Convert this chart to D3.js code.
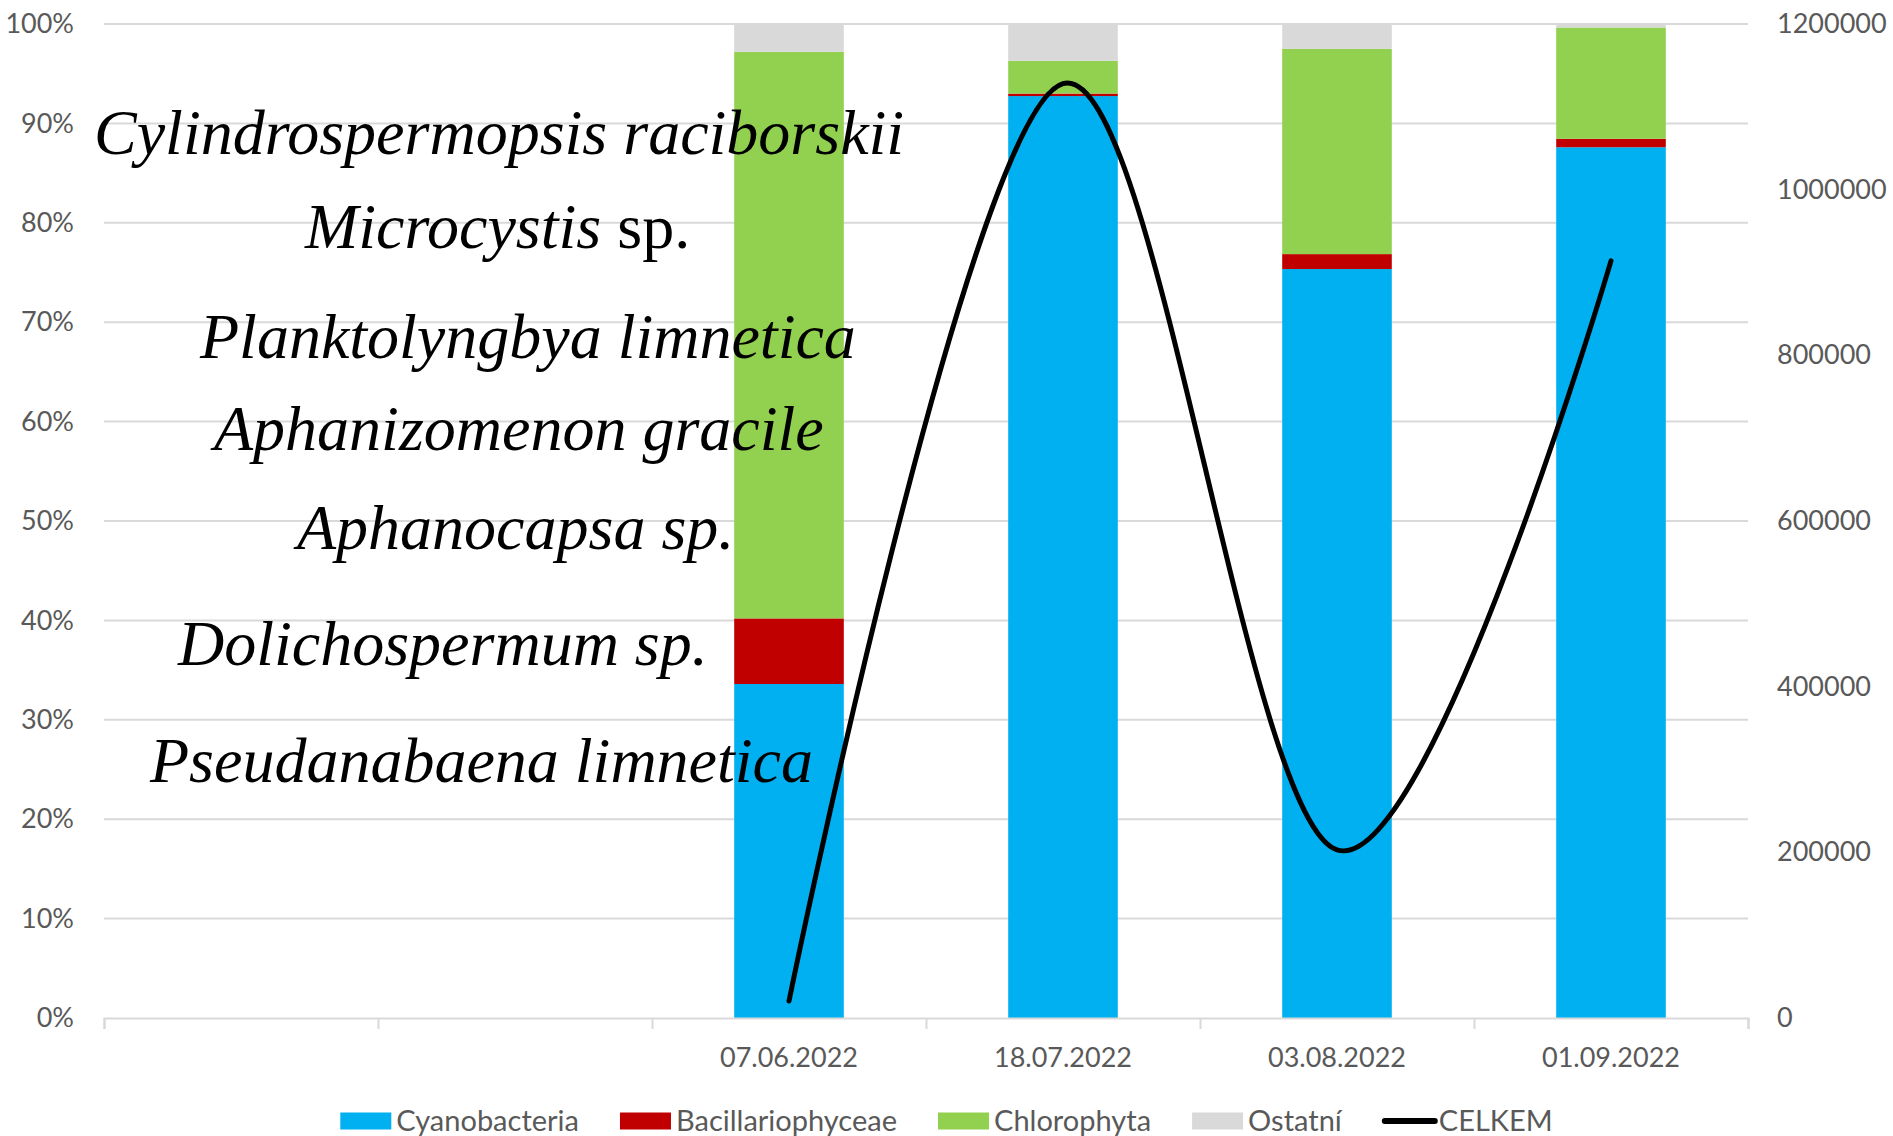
<!DOCTYPE html>
<html>
<head>
<meta charset="utf-8">
<script src="https://cdn.jsdelivr.net/npm/d3@7/dist/d3.min.js"></script>
<style>
body { margin: 0; background: #fff; }
.axis text { font: 27px Lato, sans-serif; fill: #595959; }
.axis path, .axis line { stroke: #d9d9d9; stroke-width: 2px; }
.grid line { stroke: #d9d9d9; stroke-width: 2px; }
.legend text { font: 29px Lato, sans-serif; fill: #595959; }
.taxon { font: 64px "Liberation Serif", "Times New Roman", serif; fill: #000; }
</style>
</head>
<body>
<div id="chart"></div>
<script>
// categories (two empty rows in the source sheet)
var categories = ["", "", "07.06.2022", "18.07.2022", "03.08.2022", "01.09.2022"];

// share of each group, %
var cyanobacteria     = [null, null, 33.6, 92.75, 75.35, 87.6];
var bacillariophyceae = [null, null, 6.6, 0.25, 1.5, 0.85];
var chlorophyta       = [null, null, 57.0, 3.3, 20.65, 11.2];
var ostatni           = [null, null, 2.8, 3.7, 2.5, 0.35];

// total count (right axis)
var celkem = [null, null, 20500, 1128000, 203000, 914000];

var seriesNames = ["Cyanobacteria", "Bacillariophyceae", "Chlorophyta", "Ostatní"];
var lineName = "CELKEM";

var pctTicks = [0, 10, 20, 30, 40, 50, 60, 70, 80, 90, 100];
var absTicks = [0, 200000, 400000, 600000, 800000, 1000000, 1200000];

// dominant taxa, [text, italic]
var taxa = [
  [["Cylindrospermopsis raciborskii", true]],
  [["Microcystis", true], [" sp.", false]],
  [["Planktolyngbya limnetica", true]],
  [["Aphanizomenon gracile", true]],
  [["Aphanocapsa sp.", true]],
  [["Dolichospermum sp.", true]],
  [["Pseudanabaena limnetica", true]]
];

// layout
var colors = ["#00b0f0", "#c00000", "#92d050", "#d9d9d9"];
var taxaPos = [[94, 154], [305, 248], [200, 358], [214, 450], [297, 549], [178, 665], [150, 782]];

var W = 1893, H = 1136;
var margin = {top: 24, right: 145, bottom: 118, left: 104},
    width  = W - margin.left - margin.right,
    height = H - margin.top - margin.bottom;

var svg = d3.select("#chart").append("svg")
    .attr("width", W)
    .attr("height", H);

var g = svg.append("g")
    .attr("transform", "translate(" + margin.left + "," + margin.top + ")");

var x = d3.scaleBand().domain(d3.range(categories.length)).range([0, width]).padding(0);
var xEdge = d3.scaleLinear().domain([0, categories.length]).range([0, width]);
var yPct = d3.scaleLinear().domain([0, 100]).range([height, 0]);
var yAbs = d3.scaleLinear().domain([0, 1200000]).range([height, 0]);

// gridlines
g.append("g").attr("class", "grid")
  .selectAll("line").data(pctTicks.slice(1)).enter().append("line")
    .attr("x1", 0).attr("x2", width)
    .attr("y1", function(d) { return yPct(d); })
    .attr("y2", function(d) { return yPct(d); });

// stacked bars
var rows = categories.map(function(c, i) {
  return {i: i, s0: cyanobacteria[i] || 0, s1: bacillariophyceae[i] || 0,
          s2: chlorophyta[i] || 0, s3: ostatni[i] || 0};
});
var stack = d3.stack().keys(["s0", "s1", "s2", "s3"]);
var layers = stack(rows);
var barW = x.bandwidth() * 0.4;

g.selectAll(".layer").data(layers).enter().append("g")
    .attr("class", "layer")
    .attr("fill", function(d, k) { return colors[k]; })
  .selectAll("rect").data(function(d) { return d.filter(function(p) { return p[1] > p[0]; }); })
  .enter().append("rect")
    .attr("x", function(p) { return x(p.data.i) + (x.bandwidth() - barW) / 2; })
    .attr("width", barW)
    .attr("y", function(p) { return yPct(p[1]); })
    .attr("height", function(p) { return yPct(p[0]) - yPct(p[1]); });

// x axis: boundary ticks and category labels
g.append("g").attr("class", "axis")
    .attr("transform", "translate(0," + height + ")")
    .call(d3.axisBottom(xEdge).tickValues(d3.range(categories.length + 1)).tickSize(11).tickFormat(""));

g.append("g").attr("class", "axis")
    .attr("transform", "translate(0," + height + ")")
    .call(d3.axisBottom(x).tickSize(0).tickPadding(30).tickFormat(function(i) { return categories[i]; }))
    .call(function(a) { a.select(".domain").remove(); });

// left axis
g.append("g").attr("class", "axis")
    .call(d3.axisLeft(yPct).tickValues(pctTicks).tickSize(0).tickPadding(30)
      .tickFormat(function(d) { return d + "%"; }))
    .call(function(a) { a.select(".domain").remove(); });

// right axis
g.append("g").attr("class", "axis")
    .attr("transform", "translate(" + width + ",0)")
    .call(d3.axisRight(yAbs).tickValues(absTicks).tickSize(0).tickPadding(29)
      .tickFormat(function(d) { return String(d); }))
    .call(function(a) { a.select(".domain").remove(); });

// total line
var pts = celkem.map(function(v, i) { return {i: i, v: v}; }).filter(function(d) { return d.v != null; });
var line = d3.line()
    .x(function(d) { return x(d.i) + x.bandwidth() / 2; })
    .y(function(d) { return yAbs(d.v); })
    .curve(d3.curveCardinal.tension(0));

g.append("path")
    .datum(pts)
    .attr("fill", "none")
    .attr("stroke", "#000")
    .attr("stroke-width", 5)
    .attr("stroke-linecap", "round")
    .attr("d", line);

// taxa annotations
var tx = svg.append("g");
taxa.forEach(function(parts, k) {
  var t = tx.append("text").attr("class", "taxon")
      .attr("x", taxaPos[k][0]).attr("y", taxaPos[k][1]);
  parts.forEach(function(p) {
    t.append("tspan").attr("font-style", p[1] ? "italic" : "normal")
      .style("white-space", "pre").text(p[0]);
  });
});

// legend
var lg = svg.append("g").attr("class", "legend");
var items = seriesNames.map(function(n, k) { return {name: n, color: colors[k], type: "rect"}; })
  .concat([{name: lineName, color: "#000", type: "line"}]);
var cx = 0, ly = 1121, gap = 41;
items.forEach(function(it) {
  var it_g = lg.append("g").attr("transform", "translate(" + cx + ",0)");
  if (it.type === "rect") {
    it_g.append("rect").attr("x", 0).attr("y", ly - 8.5).attr("width", 51).attr("height", 17).attr("fill", it.color);
  } else {
    it_g.append("line").attr("x1", 2).attr("x2", 52).attr("y1", ly).attr("y2", ly)
      .attr("stroke", "#000").attr("stroke-width", 6).attr("stroke-linecap", "round");
  }
  var t = it_g.append("text").attr("x", 56).attr("y", ly).attr("dy", "0.36em").text(it.name);
  cx += 56 + t.node().getComputedTextLength() + gap;
});
var lw = cx - gap;
lg.attr("transform", "translate(" + ((W - lw) / 2) + ",0)");
</script>
</body>
</html>
